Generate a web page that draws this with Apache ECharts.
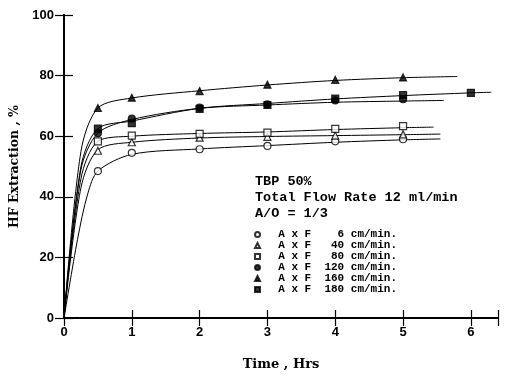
<!DOCTYPE html>
<html><head><meta charset="utf-8">
<script src="https://cdn.jsdelivr.net/npm/echarts@6/dist/echarts.min.js"></script>
<style>html,body{margin:0;padding:0;background:#fff}#c{width:505px;height:376px}</style>
</head><body><div id="c"></div>
<script>
// Measured times (hrs)
const times = [0.5, 1, 2, 3, 4, 5];
const times180 = [0.5, 1, 2, 3, 4, 5, 6];
// Flow velocities (cm/min) for legend
const speeds = ['6', '40', '80', '120', '160', '180'];
// Marker values (HF extraction %)
const m6   = [48.5, 54.5, 55.7, 56.8, 58.3, 59.0];
const m40  = [55.2, 58.0, 59.5, 59.8, 60.2, 60.6];
const m80  = [58.3, 60.2, 60.8, 61.2, 62.4, 63.3];
const m120 = [61.0, 65.8, 69.4, 70.5, 71.8, 72.2];
const m160 = [69.3, 72.7, 74.9, 77.0, 78.6, 79.4];
const m180 = [62.5, 64.3, 69.0, 70.3, 72.4, 73.6, 74.3];
// Fitted curves: [time, %]
const f6   = [[0,0],[0.2,26],[0.35,41],[0.5,48.5],[1,54],[2,55.8],[3,56.9],[4,58],[5,58.8],[5.55,59.1]];
const f40  = [[0,0],[0.25,43],[0.5,55.5],[1,58],[2,59.4],[3,59.9],[4,60.2],[5,60.5],[5.55,60.7]];
const f80  = [[0,0],[0.25,46],[0.5,58.3],[1,60],[2,60.9],[3,61.4],[4,62.2],[5,62.8],[5.45,63]];
const f120 = [[0,0],[0.25,49],[0.5,61],[1,65.5],[2,69.2],[3,70.3],[4,71.2],[5,71.6],[5.6,71.8]];
const f160 = [[0,0],[0.25,55],[0.5,69.3],[1,72.6],[2,75],[3,76.9],[4,78.4],[5,79.3],[5.8,79.7]];
const f180 = [[0,0],[0.25,50],[0.5,62.5],[1,65],[2,69.2],[3,70.8],[4,72.3],[5,73.4],[6,74.3],[6.3,74.5]];
const yTicks = [0, 20, 40, 60, 80, 100];
const xTicks = [0, 1, 2, 3, 4, 5, 6];

const zip = (xs, ys) => xs.map((x, i) => [x, ys[i]]);
const markers = [
  {name: speeds[0], sym: 'circle',   fill: '#fff', t: times, v: m6},
  {name: speeds[1], sym: 'triangle', fill: '#fff', t: times, v: m40},
  {name: speeds[2], sym: 'rect',     fill: '#fff', t: times, v: m80},
  {name: speeds[3], sym: 'circle',   fill: '#000', t: times, v: m120},
  {name: speeds[4], sym: 'triangle', fill: '#000', t: times, v: m160},
  {name: speeds[5], sym: 'rect',     fill: '#000', t: times180, v: m180}
];
const curves = [f6, f40, f80, f120, f160, f180];

const series = [];
curves.forEach(c => series.push({
  type: 'line', data: c, smooth: 0.3, showSymbol: false,
  lineStyle: {color: '#000', width: 1}, silent: true, z: 2
}));
markers.forEach(m => series.push({
  type: 'scatter', name: m.name, data: zip(m.t, m.v), symbol: m.sym, symbolSize: 7,
  itemStyle: {color: m.fill, borderColor: '#000', borderWidth: 1.2}, z: 3
}));

const mono = 'Liberation Mono';
const pad = s => (' '.repeat(3 - s.length)) + s;

const chart = echarts.init(document.getElementById('c'), null, {renderer: 'canvas'});
chart.setOption({
  animation: false,
  backgroundColor: '#fff',
  grid: {left: 64, right: 7, top: 15, bottom: 56, containLabel: false},
  xAxis: [{
    type: 'value', min: 0, max: 6.4, interval: 1,
    axisLine: {show: true, lineStyle: {color: '#000', width: 1.8}},
    axisTick: {show: true, inside: true, length: 8, lineStyle: {color: '#000', width: 1.2}},
    axisLabel: {color: '#000', fontFamily: 'Liberation Sans', fontWeight: 'bold', fontSize: 13, margin: 8,
      formatter: v => xTicks.includes(v) ? String(v) : ''},
    splitLine: {show: false},
    name: 'Time , Hrs', nameLocation: 'middle', nameGap: 40,
    nameTextStyle: {color: '#000', fontFamily: 'DejaVu Serif', fontSize: 13, fontWeight: 'bold'}
  }, {
    type: 'value', position: 'top', min: 0, max: 6.4, interval: 1,
    axisLine: {show: true, lineStyle: {color: '#000', width: 1.8}},
    axisTick: {show: true, inside: true, length: 8, lineStyle: {color: '#000', width: 1.2}},
    axisLabel: {show: false}, splitLine: {show: false}
  }],
  yAxis: [{
    type: 'value', min: 0, max: 100, interval: 20,
    axisLine: {show: true, lineStyle: {color: '#000', width: 1.8}},
    axisTick: {show: true, inside: true, length: 9, lineStyle: {color: '#000', width: 1.2}},
    axisLabel: {color: '#000', fontFamily: 'Liberation Sans', fontWeight: 'bold', fontSize: 13, margin: 10,
      formatter: v => yTicks.includes(v) ? String(v) : ''},
    splitLine: {show: false},
    name: 'HF Extraction , %', nameLocation: 'middle', nameGap: 40, nameRotate: 90,
    nameTextStyle: {color: '#000', fontFamily: 'DejaVu Serif', fontSize: 12.5, fontWeight: 'bold'}
  }, {
    type: 'value', position: 'right', min: 0, max: 100, interval: 20,
    axisLine: {show: true, lineStyle: {color: '#000', width: 1.8}},
    axisTick: {show: true, inside: true, length: 9, lineStyle: {color: '#000', width: 1.2}},
    axisLabel: {show: false}, splitLine: {show: false}
  }],
  legend: {
    orient: 'vertical', left: 254, top: 229, itemWidth: 5, itemHeight: 5, itemGap: 0,
    padding: 0, selectedMode: false,
    data: markers.map(m => ({name: m.name, icon: m.sym})),
    formatter: n => '  A x F  ' + pad(n) + ' cm/min.',
    textStyle: {color: '#000', fontFamily: mono, fontSize: 11, fontWeight: 'bold', lineHeight: 11}
  },
  graphic: [{
    type: 'text', left: 255, top: 174,
    style: {
      text: 'TBP 50%\nTotal Flow Rate 12 ml/min\nA/O = 1/3',
      fill: '#000', font: 'bold 13.5px "Liberation Mono"', lineHeight: 16
    }
  }],
  series: series
});
</script></body></html>
